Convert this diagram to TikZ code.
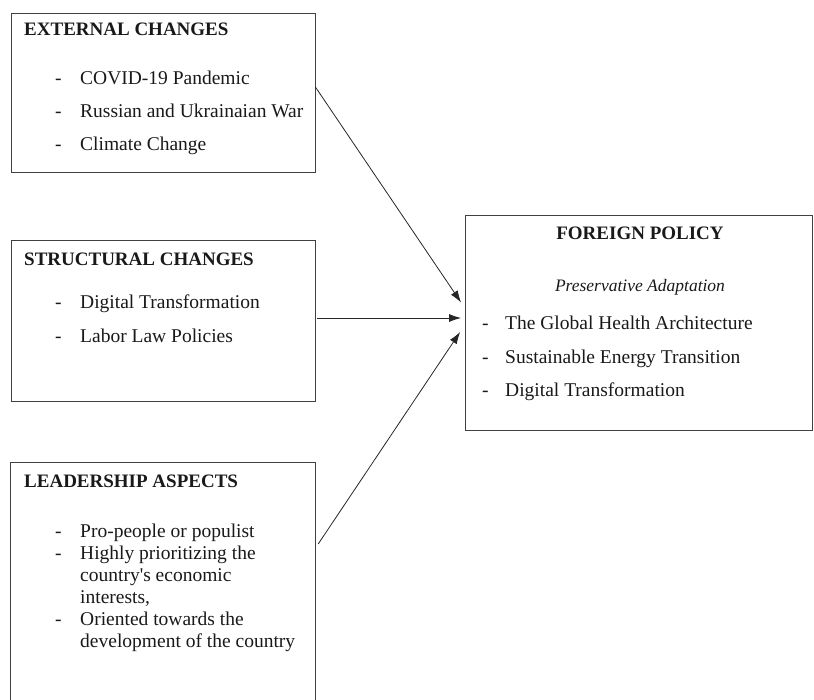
\documentclass[tikz,border=0pt]{standalone}
\usepackage{fontspec}
\setmainfont{Liberation Serif}
\usetikzlibrary{arrows.meta,positioning}
\tikzset{
	box/.style={draw=black!75, line width=0.8pt, rectangle, inner sep=0pt},
	txt/.style={anchor=west, inner sep=0pt, yshift=-4.5pt, text height=0.7em, text depth=0.2em, font=\fontsize{19.5}{24}\selectfont, text=black!90},
	head/.style={txt, font=\fontsize{19}{23}\selectfont\bfseries},
	arr/.style={-{Latex[length=12pt,width=8pt]}, line width=0.8pt, black!85},
}
\begin{document}
\begin{tikzpicture}[x=1pt,y=-1pt]
		\useasboundingbox (0,0) rectangle (814,699);
		% the four boxes
		\node[box, minimum width=304pt, minimum height=159pt] (ext) at (163,92.5) {};
		\node[box, minimum width=304pt, minimum height=161pt] (str) at (163,320.5) {};
		\node[rectangle, inner sep=0pt, minimum width=304pt, minimum height=238pt] (lead) at (163,582) {};
		\draw[black!75, line width=0.8pt] (lead.south west) -- (lead.north west) -- (lead.north east) -- (lead.south east);
		\node[box, minimum width=347pt, minimum height=215pt] (fp) at (639,322.5) {};
		
		% external changes
		\node[head] (exth) at (24,28) {EXTERNAL CHANGES};
		\node[txt] (extd1) at (55,77) {-};
		\node[txt] (ext1) at (80,77) {COVID-19 Pandemic};
		\node[txt] (extd2) at (55,110) {-};
		\node[txt] (ext2) at (80,110) {Russian and Ukrainaian War};
		\node[txt] (extd3) at (55,143.5) {-};
		\node[txt] (ext3) at (80,143.5) {Climate Change};
		
		% structural changes
		\node[head] (strh) at (24,258) {STRUCTURAL CHANGES};
		\node[txt] (strd1) at (55,301) {-};
		\node[txt] (str1) at (80,301) {Digital Transformation};
		\node[txt] (strd2) at (55,335) {-};
		\node[txt] (str2) at (80,335) {Labor Law Policies};
		
		% leadership aspects
		\node[head] (leadh) at (24,480) {LEADERSHIP ASPECTS};
		\node[txt] (leadd1) at (55,530) {-};
		\node[txt] (lead1) at (80,530) {Pro-people or populist};
		\node[txt] (leadd2) at (55,552) {-};
		\node[txt] (lead2) at (80,552) {Highly prioritizing the};
		\node[txt] (lead3) at (80,574) {country\textquotesingle s economic};
		\node[txt] (lead4) at (80,596) {interests,};
		\node[txt] (leadd5) at (55,618) {-};
		\node[txt] (lead5) at (80,618) {Oriented towards the};
		\node[txt] (lead6) at (80,640) {development of the country};
		
		% foreign policy
		\node[head, anchor=center] (fph) at (640,232) {FOREIGN POLICY};
		\node[txt, anchor=center, font=\fontsize{17.5}{21}\selectfont\itshape] (fpsub) at (640,284) {Preservative Adaptation};
		\node[txt] (fpd1) at (482,322) {-};
		\node[txt] (fp1) at (505,322) {The Global Health Architecture};
		\node[txt] (fpd2) at (482,356) {-};
		\node[txt] (fp2) at (505,356) {Sustainable Energy Transition};
		\node[txt] (fpd3) at (482,389) {-};
		\node[txt] (fp3) at (505,389) {Digital Transformation};
		
		% arrows
		\draw[arr] ([yshift=5.5pt]ext.east) -- ([xshift=-4pt,yshift=20pt]fp.west);
		\draw[arr] ([xshift=2pt,yshift=2.5pt]str.east) -- ([xshift=-4pt,yshift=2.5pt]str.east -| fp.west);
		\draw[arr] ([xshift=3pt,yshift=38pt]lead.east) -- ([xshift=-5pt,yshift=-9.5pt]fp.west);
	\end{tikzpicture}
\end{document}
